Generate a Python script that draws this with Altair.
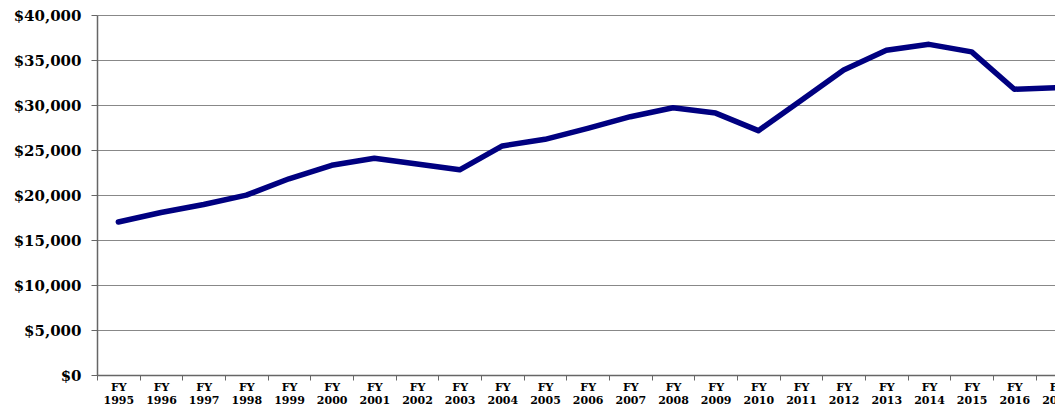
import altair as alt
import pandas as pd

years = [str(y) for y in range(1995, 2018)]
values = [17000, 18050, 18950, 19980, 21800, 23300, 24080, 23440, 22800, 25450,
          26190, 27400, 28700, 29700, 29100, 27150, 30500, 33900, 36080, 36740,
          35900, 31750, 31930]

df = pd.DataFrame({"year": years, "value": values})

STEP = 42.667
RANGE_W = STEP * len(years)

chart = alt.Chart(df).mark_line(
    color="#000080", strokeWidth=5.5, strokeCap="round", strokeJoin="round"
).encode(
    x=alt.X(
        "year:O",
        sort=years,
        scale=alt.Scale(type="point", padding=0.5, range=[0, RANGE_W]),
        axis=alt.Axis(
            title=None,
            labelAngle=0,
            labelExpr="['FY', datum.label]",
            labelFont="DejaVu Serif",
            labelFontWeight="bold",
            labelFontSize=11,
            labelLineHeight=13.5,
            labelColor="black",
            labelPadding=1,
            labelBaseline="top",
            tickSize=5,
            tickColor="#666",
            tickOffset=-STEP / 2,
            labelOffset=STEP / 2,
            domainColor="#666",
            domainWidth=1.5,
            grid=False,
            labelOverlap=False,
            labelBound=False,
        ),
    ),
    y=alt.Y(
        "value:Q",
        scale=alt.Scale(domain=[0, 40000], nice=False),
        axis=alt.Axis(
            title=None,
            values=list(range(0, 40001, 5000)),
            format="$,.0f",
            labelFont="DejaVu Serif",
            labelFontWeight="bold",
            labelFontSize=15,
            labelColor="black",
            labelPadding=10,
            tickSize=6,
            tickColor="#666",
            domainColor="#666",
            domainWidth=1.5,
            gridColor="#888",
            gridWidth=1.2,
        ),
    ),
).properties(
    width=958,
    height=360,
    autosize=alt.AutoSizeParams(type="none"),
    padding={"left": 89, "top": 7, "right": 0, "bottom": 32},
).configure_view(stroke=None)

chart.save("out.html", embed_options={"renderer": "svg", "actions": False})
